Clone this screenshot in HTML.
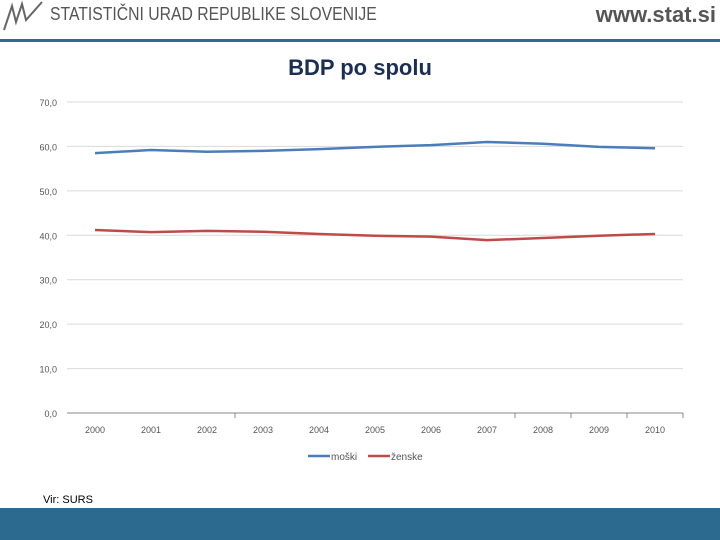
<!DOCTYPE html>
<html><head><meta charset="utf-8"><style>
body{margin:0;width:720px;height:540px;position:relative;background:#fff;font-family:"Liberation Sans",sans-serif;overflow:hidden}
.t{position:absolute;white-space:nowrap}
</style></head><body>
<svg style="position:absolute;left:2px;top:0" width="44" height="32" viewBox="0 0 44 32"><path d="M2 30 L10 6 L14 22 L20 4 L24 20 L40 2" fill="none" stroke="#666" stroke-width="2"/></svg>
<div class="t" style="left:50px;top:4px;font-size:18px;color:#555;transform:scaleX(0.875);transform-origin:left top">STATISTIČNI URAD REPUBLIKE SLOVENIJE</div>
<div class="t" style="right:4px;top:2px;font-size:22px;font-weight:bold;color:#555">www.stat.si</div>
<div style="position:absolute;left:0;top:39px;width:720px;height:3px;background:#2c6a90"></div>
<div class="t" style="left:0;width:720px;text-align:center;top:55px;font-size:22px;font-weight:bold;color:#1b2f55">BDP po spolu</div>
<svg id="c" style="position:absolute;left:0;top:0" width="720" height="540"></svg>
<div class="t" style="left:43px;top:494px;font-size:11px;color:#000">Vir: SURS</div>
<div style="position:absolute;left:0;top:508px;width:720px;height:32px;background:#2c6a90"></div>
<script>
const categories=["2000","2001","2002","2003","2004","2005","2006","2007","2008","2009","2010"];
const moski=[58.5,59.2,58.8,59.0,59.4,59.9,60.3,61.0,60.6,59.9,59.6];
const zenske=[41.2,40.7,41.0,40.8,40.3,39.9,39.7,38.9,39.4,39.9,40.3];
const yTicks=[0,10,20,30,40,50,60,70];
const yTickLabels=["0,0","10,0","20,0","30,0","40,0","50,0","60,0","70,0"];
const svg=document.getElementById('c'),NS="http://www.w3.org/2000/svg";
const x0=67,x1=683,yb=413,yt=102,ymax=70;
const step=(x1-x0)/categories.length;
const X=i=>x0+step*(i+0.5), Y=v=>yb-(v/ymax)*(yb-yt);
function mk(t,a){const e=document.createElementNS(NS,t);for(const k in a)e.setAttribute(k,a[k]);svg.appendChild(e);return e;}
yTicks.forEach((v,i)=>{
 const g=mk('line',{x1:x0,x2:x1,y1:Y(v),y2:Y(v),stroke:v===0?'#888':'#d9d9d9','stroke-width':1});
 
 
 const t=mk('text',{x:x0-10,y:Y(v)+4,'text-anchor':'end','font-size':9,fill:'#555','font-family':'Liberation Sans Narrow, Liberation Sans, sans-serif'});
 t.textContent=yTickLabels[i];
 
 
});
[3,8,9,10,11].forEach(i=>{const l=mk('line',{x1:x0+step*i,x2:x0+step*i,y1:yb,y2:yb+5,stroke:'#888'});
 
 });
categories.forEach((c,i)=>{const t=mk('text',{x:X(i),y:yb+20,'text-anchor':'middle','font-size':9,fill:'#555','font-family':'Liberation Sans Narrow, Liberation Sans, sans-serif'});t.textContent=c;
 
 });
function series(d,col,name){const p=mk('polyline',{points:d.map((v,i)=>X(i)+','+Y(v)).join(' '),fill:'none',stroke:col,'stroke-width':2.5,'stroke-linejoin':'round'});
 
 }
series(moski,'#4a7ebb','series-moski');
series(zenske,'#be4b48','series-zenske');
[[308,'#4a7ebb','moški'],[368,'#be4b48','ženske']].forEach(([lx,col,lab])=>{
 const l=mk('line',{x1:lx,x2:lx+22,y1:456,y2:456,stroke:col,'stroke-width':2.5});
 
 
 const t=mk('text',{x:lx+23,y:460,'font-size':10,fill:'#555','font-family':'Liberation Sans Narrow, Liberation Sans, sans-serif'});t.textContent=lab;
 
 
});
</script>
</body></html>
